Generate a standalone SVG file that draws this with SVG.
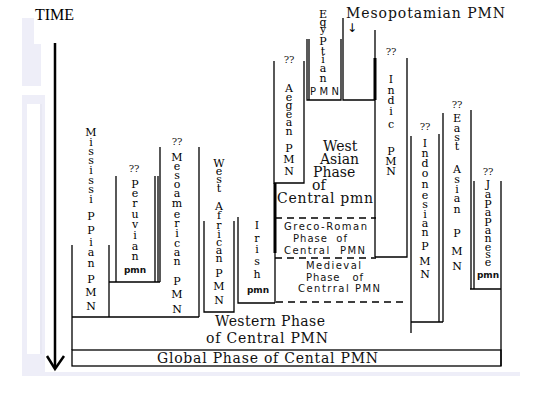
<svg xmlns="http://www.w3.org/2000/svg" width="544" height="408" viewBox="0 0 544 408">
<style>
.ln{stroke:#000;stroke-width:1.3;fill:none}
.th{stroke:#000;stroke-width:3;fill:none}
.ds{stroke:#000;stroke-width:1.3;stroke-dasharray:7,5;fill:none}
.v{font-family:"DejaVu Serif",serif;font-size:11px;text-anchor:middle;fill:#000}
.q{font-family:"DejaVu Serif",serif;font-size:10px;text-anchor:middle;fill:#111}
.s{font-family:"DejaVu Sans",sans-serif;font-size:10px;fill:#111}
.h{font-family:"DejaVu Serif",serif;font-size:14px;fill:#111}
.p{font-family:"DejaVu Sans",sans-serif;font-size:9px;font-weight:bold;text-anchor:middle;fill:#111}
.bg{fill:#eeeef8}
</style>
<rect width="544" height="408" fill="#fff"/>
<g id="background">
<rect class="bg" x="22" y="18" width="12" height="26"/>
<rect class="bg" x="22" y="44" width="19" height="42"/>
<rect class="bg" x="22" y="95" width="23" height="280"/>
<rect x="27" y="104" width="13" height="250" fill="#fff"/>
<path d="M41,104 V354" stroke="#e2e2ee" stroke-width="1"/>
<rect class="bg" x="22" y="372" width="498" height="4"/>
</g>
<text x="35" y="20" font-family="Liberation Serif,serif" font-size="16">TIME</text>
<g id="connectors">
<path d="M55,43 V368" stroke="#000" stroke-width="2.5" fill="none"/>
<path d="M47,356 L55,369 L64,356" stroke="#000" stroke-width="2.5" fill="none"/>
</g>
<g id="global-phase">
<rect class="ln" x="72" y="350" width="429" height="16" stroke-width="1.8"/>
<text class="h" x="157" y="363" textLength="221">Global Phase of Cental PMN</text>
</g>
<g id="western-phase">
<path class="ln" d="M72,245 V350 M72,317 H199"/>
<text class="h" x="215" y="326" textLength="110">Western Phase</text>
<text class="h" x="206" y="343" textLength="122">of Central PMN</text>
</g>
<g id="mississippian">
<path class="ln" d="M109,245 V317"/>
<text class="v"><tspan x="91" y="136">M</tspan><tspan x="91" y="146">i</tspan><tspan x="91" y="155">s</tspan><tspan x="91" y="164">s</tspan><tspan x="91" y="174">i</tspan><tspan x="91" y="184">s</tspan><tspan x="91" y="193">s</tspan><tspan x="91" y="203">i</tspan><tspan x="91" y="220">P</tspan><tspan x="91" y="234">P</tspan><tspan x="91" y="246">i</tspan><tspan x="91" y="256">a</tspan><tspan x="91" y="267">n</tspan><tspan x="91" y="283">P</tspan><tspan x="91" y="296">M</tspan><tspan x="91" y="310">N</tspan></text>
</g>
<g id="peruvian">
<path class="ln" d="M116,176 V282 M155,176 V282 M158,176 V282 M109,282 H160"/>
<text class="q" x="134" y="172">??</text>
<text class="v"><tspan x="135" y="188">P</tspan><tspan x="135" y="197">e</tspan><tspan x="135" y="207">r</tspan><tspan x="135" y="218">u</tspan><tspan x="135" y="228">v</tspan><tspan x="135" y="239">i</tspan><tspan x="135" y="250">a</tspan><tspan x="135" y="260">n</tspan></text>
<text class="p" x="135" y="273">pmn</text>
</g>
<g id="mesoamerican">
<path class="ln" d="M160,147 V282 M199,147 V317"/>
<text class="q" x="177" y="145">??</text>
<text class="v"><tspan x="177" y="161">M</tspan><tspan x="177" y="170">e</tspan><tspan x="177" y="179">s</tspan><tspan x="177" y="188">o</tspan><tspan x="177" y="197">a</tspan><tspan x="177" y="207">m</tspan><tspan x="177" y="218">e</tspan><tspan x="177" y="227">r</tspan><tspan x="177" y="237">i</tspan><tspan x="177" y="247">c</tspan><tspan x="177" y="256">a</tspan><tspan x="177" y="265">n</tspan><tspan x="177" y="285">P</tspan><tspan x="177" y="298">M</tspan><tspan x="177" y="313">N</tspan></text>
</g>
<g id="west-african">
<path class="ln" d="M204,221 V312 H234 V221"/>
<text class="v"><tspan x="219" y="167">W</tspan><tspan x="219" y="175">e</tspan><tspan x="219" y="183">s</tspan><tspan x="219" y="192">t</tspan><tspan x="219" y="210">A</tspan><tspan x="219" y="219">f</tspan><tspan x="219" y="229">r</tspan><tspan x="219" y="238">i</tspan><tspan x="219" y="246">c</tspan><tspan x="219" y="254">a</tspan><tspan x="219" y="262">n</tspan><tspan x="219" y="277">P</tspan><tspan x="219" y="290">M</tspan><tspan x="219" y="304">N</tspan></text>
</g>
<g id="irish">
<path class="ln" d="M238,217 V303 H275"/>
<text class="v"><tspan x="257" y="229">I</tspan><tspan x="257" y="242">r</tspan><tspan x="257" y="253">i</tspan><tspan x="257" y="265">s</tspan><tspan x="257" y="278">h</tspan></text>
<text class="p" x="258" y="293">pmn</text>
</g>
<g id="aegean">
<path class="ln" d="M274,61 V183 H304 V61"/>
<text class="q" x="289" y="63">??</text>
<text class="v"><tspan x="289" y="92">A</tspan><tspan x="289" y="101">e</tspan><tspan x="289" y="109">g</tspan><tspan x="289" y="118">e</tspan><tspan x="289" y="126">a</tspan><tspan x="289" y="135">n</tspan><tspan x="289" y="152">P</tspan><tspan x="289" y="163">M</tspan><tspan x="289" y="175">N</tspan></text>
</g>
<g id="egyptian">
<path class="ln" d="M307,39 V100 H341 V39 M309,39 V100"/>
<text class="v"><tspan x="323" y="18">E</tspan><tspan x="323" y="26">g</tspan><tspan x="323" y="33">y</tspan><tspan x="323" y="45">P</tspan><tspan x="323" y="55">t</tspan><tspan x="323" y="63">i</tspan><tspan x="323" y="72">a</tspan><tspan x="323" y="82">n</tspan></text>
<text class="s" x="310" y="95" textLength="29" font-size="10">PMN</text>
</g>
<g id="mesopotamian">
<path class="ln" d="M343,18 V100 H375"/>
<text class="h" x="346" y="18" font-size="13" textLength="159">Mesopotamian PMN</text>
<text x="352" y="32" font-family="DejaVu Sans,sans-serif" font-size="12" text-anchor="middle">↓</text>
</g>
<g id="west-asian">
<path class="ln" d="M275,183 V303 M375,30 V257"/>
<path class="th" d="M275,183 V253 M375,58 V100"/>
<path class="ds" d="M275,218 H376 M275,258 H376"/>
<text class="h"><tspan x="323" y="151">West</tspan><tspan x="320" y="164">Asian</tspan><tspan x="313" y="177">Phase</tspan><tspan x="312" y="190">of</tspan><tspan x="277" y="203" textLength="96">Central pmn</tspan></text>
</g>
<g id="greco-roman">
<text class="s" x="284" y="230" textLength="83">Greco-Roman</text>
<text class="s" x="293" y="242" textLength="54" xml:space="preserve">Phase  of</text>
<text class="s" x="284" y="254" textLength="81" xml:space="preserve">Central  PMN</text>
</g>
<g id="medieval">
<path class="ds" d="M276,302 H408"/>
<text class="s" x="306" y="269" textLength="55">Medieval</text>
<text class="s" x="306" y="281" textLength="57" xml:space="preserve">Phase   of</text>
<text class="s" x="298" y="292" textLength="82">Centrral PMN</text>
</g>
<g id="indic">
<path class="ln" d="M375,257 H407 V58"/>
<text class="q" x="391" y="55">??</text>
<text class="v"><tspan x="391" y="83">I</tspan><tspan x="391" y="94">n</tspan><tspan x="391" y="104">d</tspan><tspan x="391" y="115">i</tspan><tspan x="391" y="128">c</tspan><tspan x="391" y="155">P</tspan><tspan x="391" y="165">M</tspan><tspan x="391" y="175">N</tspan></text>
</g>
<g id="indonesian">
<path class="ln" d="M411,136 V333 M439,134 V322 M411,322 H443"/>
<text class="q" x="425" y="130">??</text>
<text class="v"><tspan x="425" y="147">I</tspan><tspan x="425" y="157">n</tspan><tspan x="425" y="167">d</tspan><tspan x="425" y="177">o</tspan><tspan x="425" y="188">n</tspan><tspan x="425" y="199">e</tspan><tspan x="425" y="208">s</tspan><tspan x="425" y="218">i</tspan><tspan x="425" y="227">a</tspan><tspan x="425" y="236">n</tspan><tspan x="425" y="250">P</tspan><tspan x="425" y="265">M</tspan><tspan x="425" y="278">N</tspan></text>
</g>
<g id="east-asian">
<path class="ln" d="M443,113 V322 M471,110 V289"/>
<text class="q" x="457" y="108">??</text>
<text class="v"><tspan x="457" y="122">E</tspan><tspan x="457" y="132">a</tspan><tspan x="457" y="141">s</tspan><tspan x="457" y="150">t</tspan><tspan x="457" y="173">A</tspan><tspan x="457" y="183">s</tspan><tspan x="457" y="193">i</tspan><tspan x="457" y="202">a</tspan><tspan x="457" y="213">n</tspan><tspan x="457" y="237">P</tspan><tspan x="457" y="255">M</tspan><tspan x="457" y="270">N</tspan></text>
</g>
<g id="japanese">
<path class="ln" d="M474,181 V289 M470,289 H501 M501,181 V366"/>
<text class="q" x="488" y="175">??</text>
<text class="v" font-size="10"><tspan x="488" y="188">J</tspan><tspan x="488" y="198">a</tspan><tspan x="488" y="208">P</tspan><tspan x="488" y="216">a</tspan><tspan x="488" y="226">P</tspan><tspan x="488" y="234">a</tspan><tspan x="488" y="242">n</tspan><tspan x="488" y="251">e</tspan><tspan x="488" y="258">s</tspan><tspan x="488" y="266">e</tspan></text>
<text class="p" x="488" y="278">pmn</text>
</g>
</svg>
